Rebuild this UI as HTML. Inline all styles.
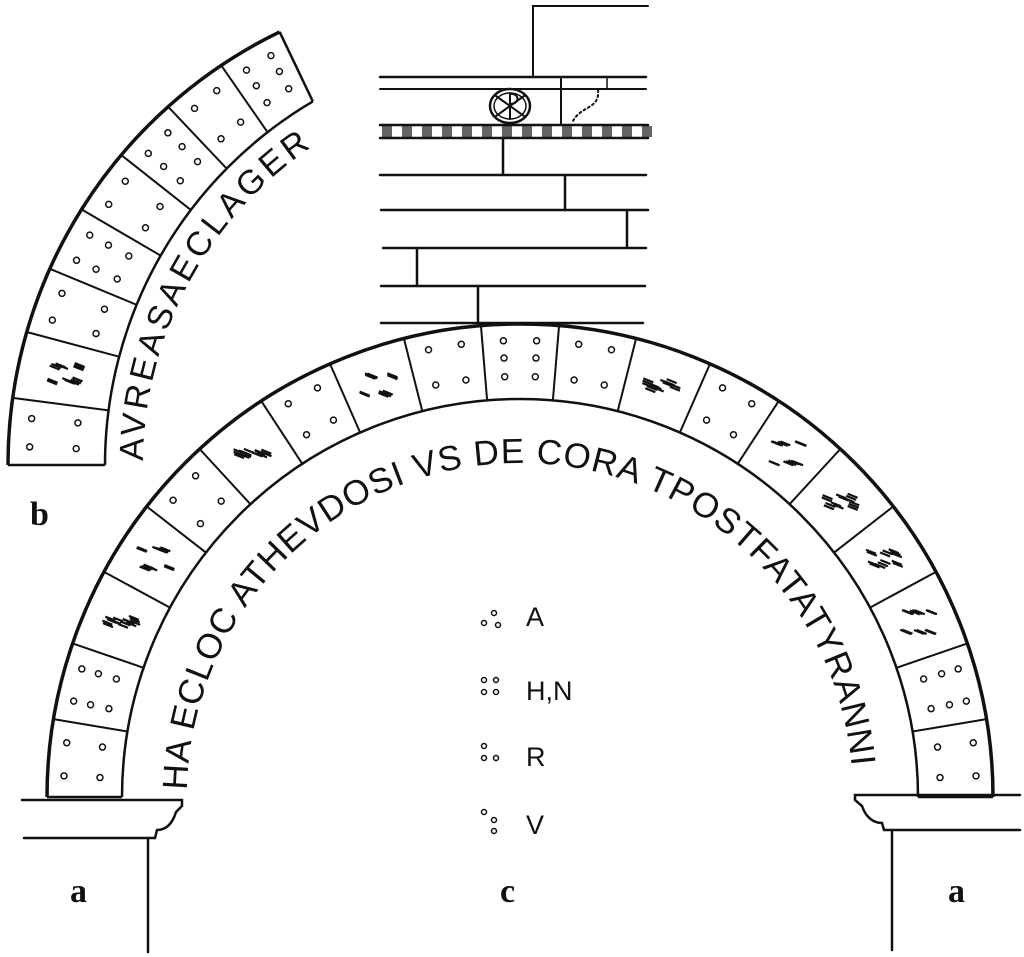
<!DOCTYPE html>
<html><head><meta charset="utf-8"><style>
html,body{margin:0;padding:0;background:#fff;}
svg{display:block;}
text{font-family:"Liberation Sans","DejaVu Sans",sans-serif;fill:#111;}
.lab{font-family:"Liberation Serif",serif;font-weight:bold;font-size:34px;}
</style></head><body>
<svg id="s" width="1024" height="957" viewBox="0 0 1024 957" xmlns="http://www.w3.org/2000/svg">
<g stroke="#111" fill="none" stroke-linecap="round">
<polyline points="533,77 533,6 648,6" stroke-width="2"/>
<line x1="380" y1="77" x2="646" y2="77" stroke-width="2.5"/>
<line x1="380" y1="89" x2="646" y2="89" stroke-width="2"/>
<line x1="561" y1="77" x2="561" y2="124" stroke-width="2"/>
<line x1="607" y1="78" x2="607" y2="88" stroke-width="1.5"/>
<path d="M598,90 C600,110 580,105 572,123" stroke-width="2" stroke-dasharray="2,3"/>
<ellipse cx="510" cy="106" rx="20" ry="17" stroke-width="2.5"/>
<ellipse cx="510" cy="106" rx="16" ry="13" stroke-width="1.5"/>
<path d="M496,96 L524,116 M524,96 L496,116 M510,93 L510,119" stroke-width="2"/>
<path d="M510,94 C520,93 520,104 510,104" stroke-width="2"/>
<line x1="380" y1="125" x2="648" y2="125" stroke-width="2.5"/>
<line x1="380" y1="138" x2="648" y2="138" stroke-width="2.5"/>
<line x1="503" y1="138" x2="503" y2="174" stroke-width="2.5"/>
<line x1="380" y1="175" x2="646" y2="175" stroke-width="2.5"/>
<line x1="565" y1="175" x2="565" y2="210" stroke-width="2.5"/>
<line x1="381" y1="210" x2="648" y2="210" stroke-width="2.5"/>
<line x1="627" y1="210" x2="627" y2="248" stroke-width="2.5"/>
<line x1="383" y1="248" x2="646" y2="248" stroke-width="2.5"/>
<line x1="417" y1="248" x2="417" y2="286" stroke-width="2.5"/>
<line x1="381" y1="286" x2="645" y2="286" stroke-width="2.5"/>
<line x1="478" y1="286" x2="478" y2="323" stroke-width="2.5"/>
<line x1="381" y1="323" x2="643" y2="323" stroke-width="2.5"/>
<path d="M22,800 L182,800 L182,806 L176,812 C172,825 165,830 157,830 L155,838 L24,838" stroke-width="2.5"/>
<line x1="148" y1="838" x2="148" y2="952" stroke-width="2.5"/>
<path d="M1020,795 L855,795 L855,800 L862,806 C866,818 874,823 882,823 L884,830 L1020,830" stroke-width="2.5"/>
<line x1="892" y1="830" x2="892" y2="950" stroke-width="2.5"/>
</g>
<g id="band"></g>
<g id="arches" stroke="#111" fill="none"></g>
<defs>
<path id="p1" d="M187,796 A333,333 0 0 1 853,796"/>
<path id="p2" d="M143,465 A384,384 0 0 1 341,129"/>
</defs>
<text font-size="35"><textPath href="#p1" startOffset="6" textLength="1010" lengthAdjust="spacing">HA ECLOC ATHEVDOSI VS DE CORA TPOSTFATATYRANNI</textPath></text>
<text font-size="34"><textPath href="#p2" startOffset="4" textLength="370" lengthAdjust="spacing">AVREASAECLAGER</textPath></text>
<text class="lab" x="30" y="525">b</text>
<text class="lab" x="70" y="902">a</text>
<text class="lab" x="500" y="902">c</text>
<text class="lab" x="948" y="902">a</text>
<g font-size="27">
<text x="526" y="626">A</text>
<text x="526" y="700">H,N</text>
<text x="526" y="766">R</text>
<text x="526" y="834">V</text>
</g>
<g stroke="#111" fill="none" stroke-width="1.5">
<circle cx="484" cy="623" r="2.5"/><circle cx="494" cy="613" r="2.5"/><circle cx="498" cy="625" r="2.5"/>
<circle cx="484" cy="680" r="2.5"/><circle cx="496" cy="680" r="2.5"/><circle cx="484" cy="692" r="2.5"/><circle cx="496" cy="692" r="2.5"/>
<circle cx="484" cy="746" r="2.5"/><circle cx="484" cy="758" r="2.5"/><circle cx="496" cy="758" r="2.5"/>
<circle cx="484" cy="812" r="2.5"/><circle cx="494" cy="820" r="2.5"/><circle cx="494" cy="831" r="2.5"/>
</g>
</svg>
<script>
(function(){
var NS="http://www.w3.org/2000/svg";
function el(p,t,a){var e=document.createElementNS(NS,t);for(var k in a)e.setAttribute(k,a[k]);p.appendChild(e);return e;}
var band=document.getElementById('band');
for(var x=383;x<646;x+=20){
 for(var j=0;j<5;j++) el(band,'line',{x1:x+j*2,y1:126,x2:x+j*2,y2:137,stroke:'#111','stroke-width':1.3});
}
var g=document.getElementById('arches');
function pt(c,r,a){return [c[0]+r*Math.cos(a),c[1]-r*Math.sin(a)];}
// O: outer {c,r,a0,a1}, I: inner
function arch(O,I,n,hatch){
 el(g,'path',{d:'M'+pt(O.c,O.r,O.a0)+' A'+O.r+','+O.r+' 0 0 1 '+pt(O.c,O.r,O.a1),'stroke-width':3.5});
 el(g,'path',{d:'M'+pt(I.c,I.r,I.a0)+' A'+I.r+','+I.r+' 0 0 1 '+pt(I.c,I.r,I.a1),'stroke-width':2.5});
 function P(S,t){return pt(S.c,S.r,S.a0+(S.a1-S.a0)*t);}
 for(var i=0;i<=n;i++){
  var A=P(O,i/n),B=P(I,i/n);
  el(g,'line',{x1:A[0],y1:A[1],x2:B[0],y2:B[1],'stroke-width':(i==0||i==n)?2.5:2});
 }
 for(var i=0;i<n;i++){
  function Q(u,v){var a=P(O,(i+u)/n),b=P(I,(i+u)/n);return [b[0]+(a[0]-b[0])*v,b[1]+(a[1]-b[1])*v];}
  if(hatch.indexOf(i)>=0){
   var c=Q(0.5,0.5);
   for(var k=0;k<14;k++){var dx=(Math.sin(k*7.3+i)*14),dy=(Math.cos(k*3.1+i)*10);
    el(g,'line',{x1:c[0]+dx-5,y1:c[1]+dy-2,x2:c[0]+dx+5,y2:c[1]+dy+2,'stroke-width':2.2});}
  } else {
   var vs=[0.3,0.55,0.78],us=[0.28,0.72];
   for(var r=0;r<3;r++)for(var q=0;q<2;q++){
    if(r==1 && (i%2==0)) continue;
    var p=Q(us[q],vs[r]);
    el(g,'circle',{cx:p[0],cy:p[1],r:3,'stroke-width':1.5});
   }
  }
 }
}
var D=Math.PI/180;
arch({c:[520,797],r:473,a0:180*D,a1:0},{c:[520,797],r:398,a0:180*D,a1:0},19,[2,3,5,7,11,13,14,15,16]);
arch({c:[489,465],r:481,a0:180*D,a1:115.8*D},{c:[527,465],r:422,a0:180*D,a1:120.5*D},8,[1]);
})();
</script>
</body></html>
